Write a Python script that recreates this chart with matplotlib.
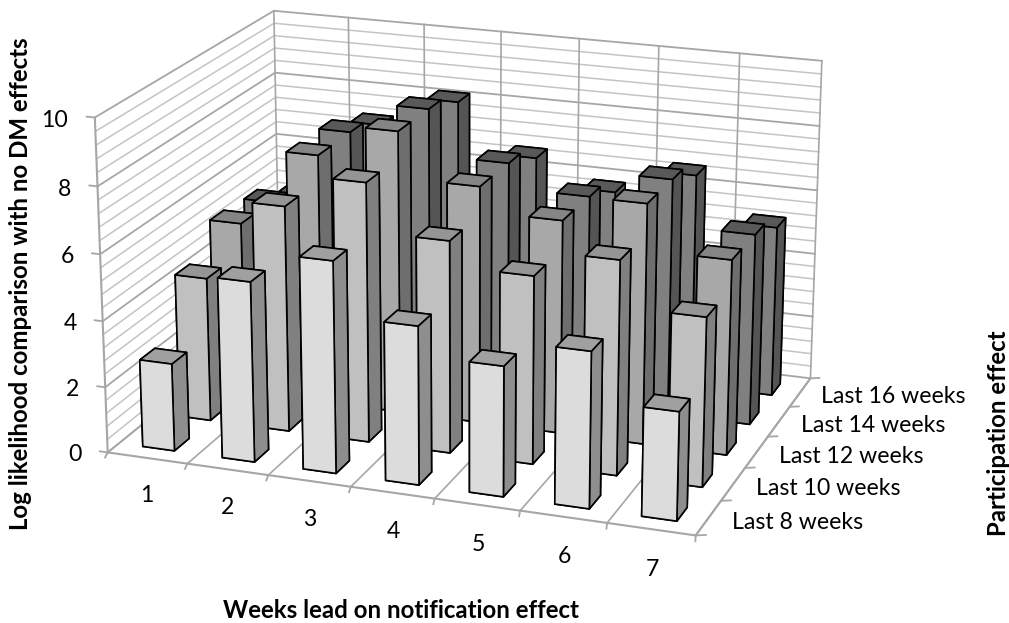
import numpy as np
import matplotlib
matplotlib.use("Agg")
import matplotlib.pyplot as plt
from mpl_toolkits.mplot3d import proj3d

W, H = 1009, 623

weeks = ["1", "2", "3", "4", "5", "6", "7"]
rows = ["Last 8 weeks", "Last 10 weeks", "Last 12 weeks", "Last 14 weeks", "Last 16 weeks"]
ticks_z = [0, 2, 4, 6, 8, 10]

last8 = [2.66, 5.43, 6.34, 4.73, 3.87, 4.62, 3.20]
last10 = [4.41, 6.88, 7.86, 6.41, 5.66, 6.42, 5.05]
last12 = [5.31, 7.68, 8.66, 7.26, 6.51, 7.29, 5.90]
last14 = [5.21, 7.68, 8.64, 7.23, 6.47, 7.26, 5.86]
last16 = [4.65, 7.20, 8.17, 6.66, 5.85, 6.64, 5.29]
series = [last8, last10, last12, last14, last16]

front = ["#dcdcdc", "#c0c0c0", "#a8a8a8", "#808080", "#808080"]
side = ["#8e8e8e", "#808080", "#6e6e6e", "#555555", "#555555"]
top = ["#a0a0a0", "#959595", "#858585", "#595959", "#595959"]
grid = "#a6a6a6"
minor = "#c4c4c4"

plt.rcParams["font.family"] = ["Lato", "DejaVu Sans"]
fig = plt.figure(figsize=(W / 100, H / 100), dpi=100)
ax = fig.add_axes([195.9 / W, 95.4 / H, 532.7 / W, 532.7 / H], projection="3d", computed_zorder=False)
ax.view_init(18.64, -70.218)
ax.set_proj_type("persp", focal_length=1.126)
ax.set_box_aspect((1, 0.722, 0.571), zoom=1.492)
ax.set_xlim(0, 7)
ax.set_ylim(0, 5)
ax.set_zlim(0, 10)
ax.set_axis_off()


def label(x, y, z, s, ha):
    # flat text at the projected spot of a 3d point
    xp, yp, _ = proj3d.proj_transform(x, y, z, ax.get_proj())
    ax.text2D(xp, yp, s, transform=ax.transData, ha=ha, va="center", fontsize=16.6)


# walls and floor
for i in range(26):
    z = i * 0.4
    col, lw = (grid, 1.3) if i % 5 == 0 else (minor, 1.1)
    ax.plot([0, 0, 7], [0, 5, 5], [z, z, z], color=col, lw=lw, zorder=1)
for c in range(8):
    ax.plot([c, c, c], [0, 5, 5], [0, 0, 10], color=grid, lw=1.2, zorder=1)
ax.plot([0, 7, 7], [0, 0, 5], [0, 0, 0], color=grid, lw=1.5, zorder=1)
ax.plot([0, 0], [0, 0], [0, 10], color=grid, lw=1.5, zorder=1)

# back row first, left to right, so nearer bars cover the others
n = 2
for r in range(4, -1, -1):
    for c in range(7):
        cols = [side[r], top[r], front[r], side[r], side[r], side[r]]
        ax.bar3d(c + 0.3, r + 0.3, 0, 0.4, 0.4, series[r][c], color=cols, shade=False,
                 edgecolor="black", linewidth=1.2, zorder=n)
        n += 1

for z in ticks_z:
    label(-0.33, 0, z - 0.17, str(z), "right")
    ax.plot([-0.1, 0], [0, 0], [z, z], color=grid, lw=1.3, zorder=1)
for c, w in enumerate(weeks):
    label(c + 0.97 - 0.025 * c, -1.0, 0, w, "center")
    ax.plot([c + 0.04, c], [-0.15, 0], [0, 0], color=grid, lw=1.3, zorder=1)
ax.plot([7.04, 7], [-0.15, 0], [0, 0], color=grid, lw=1.3, zorder=1)
for r, name in enumerate(rows):
    label(7.27, r + 0.47, 0, name, "left")
for r in range(6):
    ax.plot([7, 7.1], [r, r + 0.05], [0, 0], color=grid, lw=1.3, zorder=1)

for art in ax.get_children():
    art.set_clip_on(False)

fig.text(401 / W, 1 - 610 / H, "Weeks lead on notification effect", ha="center", va="center", fontsize=17.3, fontweight="bold")
fig.text(21 / W, 1 - 284 / H, "Log likelihood comparison with no DM effects", rotation=90, ha="center", va="center", fontsize=17.3, fontweight="bold")
fig.text(999 / W, 1 - 433 / H, "Participation effect", rotation=90, ha="center", va="center", fontsize=17.3, fontweight="bold")
fig.savefig("out.png", dpi=100)
